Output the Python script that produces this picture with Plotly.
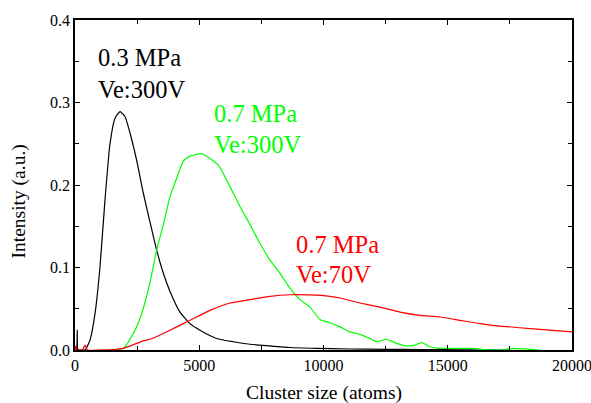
import plotly.graph_objects as go

# Cluster size distributions (atoms vs. intensity, a.u.)
size_03mpa_300v = [0, 60, 90, 120, 250, 402, 604, 805, 1006, 1207, 1408, 1610, 1811, 2012,
                   2213, 2481, 2750, 3018, 3286, 3555, 3823, 4225, 4628, 5030, 5700, 6372,
                   7042, 7847, 8652, 9725, 11000, 12500, 14000, 15500, 17500]
int_03mpa_300v = [0.0, 0.0, 0.024, 0.0, 0.0, 0.0, 0.012, 0.044, 0.101, 0.182, 0.250, 0.281,
                  0.289, 0.283, 0.263, 0.230, 0.190, 0.155, 0.121, 0.093, 0.071, 0.046, 0.032,
                  0.024, 0.014, 0.010, 0.007, 0.005, 0.003, 0.002, 0.0012, 0.0008, 0.0005,
                  0.0003, 0.0]

size_07mpa_300v = [1000, 1500, 1945, 2347, 2683, 3018, 3286, 3555, 3823, 4091, 4360, 4628,
                   5097, 5433, 5768, 6237, 6640, 7042, 7445, 7847, 8250, 8652, 9054, 9457,
                   9859, 10262, 10664, 11066, 11469, 11871, 12140, 12542, 12944, 13346, 13682,
                   13950, 14286, 14688, 15493, 16000, 16566, 17100, 17640, 18176, 18712]
int_07mpa_300v = [0.0, 0.0, 0.002, 0.020, 0.044, 0.082, 0.121, 0.152, 0.186, 0.208, 0.229,
                  0.235, 0.238, 0.232, 0.224, 0.198, 0.174, 0.152, 0.129, 0.109, 0.093, 0.075,
                  0.061, 0.052, 0.037, 0.033, 0.028, 0.022, 0.019, 0.014, 0.010, 0.013, 0.008,
                  0.005, 0.006, 0.009, 0.004, 0.002, 0.002, 0.002, 0.0, 0.0, 0.002, 0.001, 0.0]

size_07mpa_70v = [0, 30, 60, 100, 300, 400, 500, 1000, 1500, 1945, 2750, 3018, 3555, 3823,
                  4360, 4628, 5030, 5433, 6237, 7042, 7847, 8652, 9457, 10262, 10664, 11469,
                  12274, 13078, 13883, 14688, 15493, 16298, 17103, 17907, 18712, 20000]
int_07mpa_70v = [0.0, 0.005, 0.0, 0.0, 0.0, 0.006, 0.0, 0.0, 0.0005, 0.002, 0.011, 0.013,
                 0.020, 0.024, 0.032, 0.036, 0.042, 0.048, 0.057, 0.061, 0.065, 0.067, 0.0667,
                 0.065, 0.063, 0.057, 0.052, 0.046, 0.042, 0.040, 0.036, 0.032, 0.029, 0.027,
                 0.025, 0.022]

# Curve labels: text lines, colours, anchor points (data coords)
label_lines = [["0.3 MPa", "Ve:300V"], ["0.7 MPa", "Ve:300V"], ["0.7 MPa", "Ve:70V"]]
label_colors = ["#000000", "#00ff00", "#ff0000"]
label_x = [850, 5520, 8820]
label_y = [[0.355, 0.316], [0.287, 0.249], [0.128, 0.091]]

FONT = "Times New Roman, Liberation Serif, serif"

fig = go.Figure()
series = [(size_03mpa_300v, int_03mpa_300v), (size_07mpa_300v, int_07mpa_300v),
          (size_07mpa_70v, int_07mpa_70v)]
for (xs, ys), col in zip(series, label_colors):
    fig.add_trace(go.Scatter(x=xs, y=ys, mode="lines",
                             line=dict(color=col, width=1.2, shape="spline", smoothing=0.5),
                             showlegend=False))

annotations = []
for lines, col, lx, lys in zip(label_lines, label_colors, label_x, label_y):
    for txt, ly in zip(lines, lys):
        annotations.append(dict(x=lx, y=ly, xref="x", yref="y", text=txt, showarrow=False,
                                xanchor="left", yanchor="middle",
                                font=dict(family=FONT, size=24.5, color=col)))

annotations.append(dict(x=0.5, y=-0.13, xref="paper", yref="paper",
                        text="Cluster size (atoms)", showarrow=False,
                        xanchor="center", yanchor="middle",
                        font=dict(family=FONT, size=19.5, color="black")))
annotations.append(dict(x=0, y=0.45, xref="paper", yref="paper", xshift=-57,
                        text="Intensity (a.u.)", showarrow=False, textangle=-90,
                        xanchor="center", yanchor="middle",
                        font=dict(family=FONT, size=19.5, color="black")))

axis_common = dict(showline=True, linecolor="black", linewidth=1.5, mirror="allticks",
                   ticks="inside", ticklen=5, tickwidth=1, tickcolor="black",
                   showgrid=False, zeroline=False, ticklabeloverflow="allow",
                   automargin=False,
                   tickfont=dict(family=FONT, size=16, color="black"))

fig.update_layout(
    width=591, height=403,
    margin=dict(l=75, r=19, t=20, b=53),
    paper_bgcolor="white", plot_bgcolor="white",
    annotations=annotations,
    xaxis=dict(range=[0, 20000], tick0=0, dtick=5000, tickformat="d",
               minor=dict(dtick=2500, ticks="inside", ticklen=4, tickcolor="black"),
               **axis_common),
    yaxis=dict(range=[0, 0.4], tick0=0, dtick=0.1, tickformat=".1f",
               minor=dict(dtick=0.05, ticks="inside", ticklen=4, tickcolor="black"),
               **axis_common),
)

fig.write_html("out.html")
